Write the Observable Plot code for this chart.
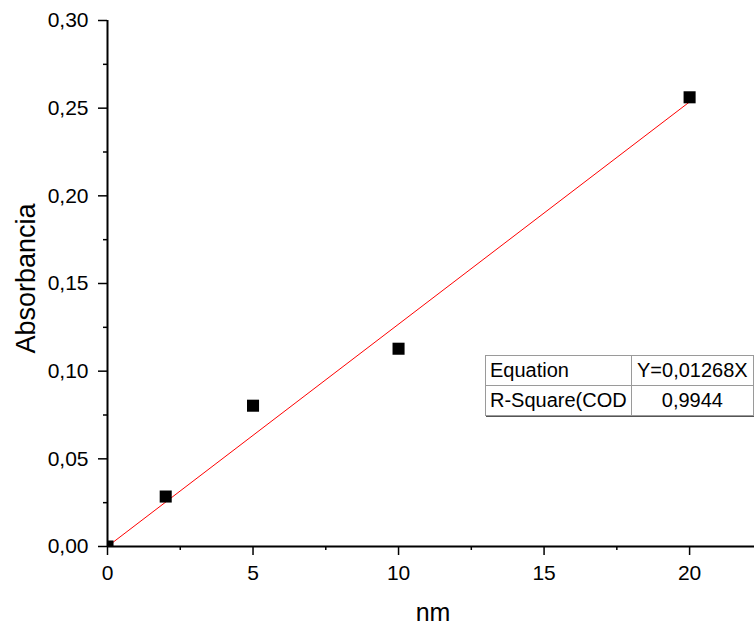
<!DOCTYPE html>
<html>
<head>
<meta charset="utf-8">
<script src="https://cdn.jsdelivr.net/npm/d3@7"></script>
<script src="https://cdn.jsdelivr.net/npm/@observablehq/plot@0.6"></script>
<style>
  html, body { margin: 0; padding: 0; background: #fff; }
  #wrap { position: relative; width: 754px; height: 627px; overflow: hidden; font-family: "Liberation Sans", Arial, sans-serif; }
  #tbl { position: absolute; left: 485px; top: 355px; border-collapse: collapse; font-size: 20px; color: #000; background: #fff; box-shadow: 1px 1px 0 #555; }
  #tbl td { border: 1px solid #9a9a9a; height: 29px; padding: 0 4px; white-space: nowrap; line-height: 29px; }
  #tbl td.c1 { width: 136px; text-align: left; }
  #tbl td.c2 { width: 115px; text-align: center; }
</style>
</head>
<body>
<div id="wrap"></div>
<script>
const xValues = [0, 2, 5, 10, 20];
const yValues = [0, 0.0285, 0.0803, 0.1128, 0.2562];
const fitX = [0, 20];
const fitY = [0, 0.2536];
const xTicks = [0, 5, 10, 15, 20];
const xMinor = [2.5, 7.5, 12.5, 17.5];
const yTicks = [0, 0.05, 0.10, 0.15, 0.20, 0.25, 0.30];
const yMinor = [0.025, 0.075, 0.125, 0.175, 0.225, 0.275];
const xLabel = "nm";
const yLabel = "Absorbancia";
const tableRows = [["Equation", "Y=0,01268X"], ["R-Square(COD", "0,9944"]];

const pts = xValues.map((x, i) => ({x, y: yValues[i]}));
const fit = fitX.map((x, i) => ({x, y: fitY[i]}));
const fmt = d => d.toFixed(2).replace(".", ",");

const chart = Plot.plot({
  width: 754,
  height: 627,
  marginLeft: 107,
  marginTop: 20,
  marginBottom: 81,
  marginRight: 0,
  style: {fontFamily: "Liberation Sans, Arial, sans-serif", fontSize: "21px", color: "#000", background: "#fff", overflow: "visible"},
  x: {domain: [0, 22.23]},
  y: {domain: [0, 0.30]},
  marks: [
    Plot.line(fit, {x: "x", y: "y", stroke: "#ff0000", strokeWidth: 1}),
    Plot.dot(pts, {x: "x", y: "y", symbol: "square", r: 6.8, fill: "#000", stroke: "none", clip: true}),
    Plot.axisX({ticks: xMinor, tickSize: 4, text: null, strokeWidth: 1.5, label: null}),
    Plot.axisY({ticks: yMinor, tickSize: 4, text: null, strokeWidth: 1.5, label: null}),
    Plot.axisX({ticks: xTicks, tickSize: 9, tickPadding: 10, strokeWidth: 1.5, fontSize: 21, tickFormat: d => String(d), label: null}),
    Plot.axisY({ticks: yTicks, tickSize: 9, tickPadding: 10, strokeWidth: 1.5, fontSize: 21, tickFormat: fmt, label: null}),
    Plot.ruleX([0], {stroke: "#000", strokeWidth: 2}),
    Plot.ruleY([0], {stroke: "#000", strokeWidth: 2})
  ]
});
const wrap = document.getElementById("wrap");
wrap.appendChild(chart);

const svg = d3.select(chart);
svg.append("text")
  .attr("transform", "translate(35,278.5) rotate(-90)")
  .attr("text-anchor", "middle")
  .attr("font-size", 27)
  .attr("fill", "#000")
  .text(yLabel);
svg.append("text")
  .attr("x", 433)
  .attr("y", 621)
  .attr("text-anchor", "middle")
  .attr("font-size", 25)
  .attr("fill", "#000")
  .text(xLabel);

const tbl = document.createElement("table");
tbl.id = "tbl";
tableRows.forEach(r => {
  const tr = document.createElement("tr");
  r.forEach((c, j) => {
    const td = document.createElement("td");
    td.className = j === 0 ? "c1" : "c2";
    td.textContent = c;
    tr.appendChild(td);
  });
  tbl.appendChild(tr);
});
wrap.appendChild(tbl);
</script>
</body>
</html>
